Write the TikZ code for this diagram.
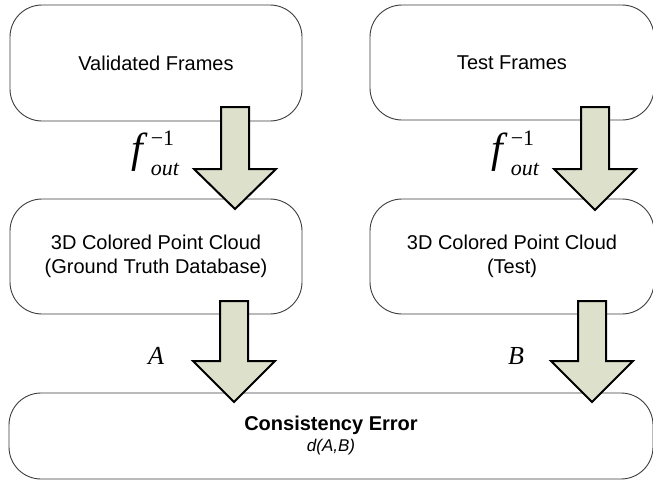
\documentclass[tikz,border=0pt]{standalone}
\usepackage{fontspec}
\setmainfont{Liberation Sans}
\newfontfamily\tnr{Liberation Serif}
\definecolor{arrowfill}{RGB}{221,225,203}
\definecolor{boxline}{RGB}{60,60,60}
\newcommand\finv{{\tnr\fontsize{42}{42}\selectfont\itshape f\kern8pt\rlap{\raisebox{17pt}{\fontsize{22}{22}\selectfont\upshape −1}}\raisebox{-13pt}{\fontsize{22}{22}\selectfont out}}}
\newcommand\blockarr[4]{%
  \draw[blockarrow] (#1-14,#2) -- (#1+14,#2) -- (#1+14,#3) -- (#1+41,#3) -- (#1,#4) -- (#1-41,#3) -- (#1-14,#3) -- cycle;}
\begin{document}
\begin{tikzpicture}[x=1pt,y=-1pt,
  box/.style={draw=boxline, line width=0.9pt, rounded corners=32pt, align=center,
    font=\fontsize{20}{24}\selectfont, inner sep=0pt},
  blockarrow/.style={draw=black, line width=2pt, fill=arrowfill, line join=miter},
  lbl/.style={inner sep=0pt}]
\useasboundingbox (0,0) rectangle (653,480);
\node[box, minimum width=292pt, minimum height=116pt] (vf) at (156,63) {Validated Frames};
\node[box, minimum width=284pt, minimum height=115pt] (tf) at (512,62.5) {Test Frames};
\node[box, minimum width=292pt, minimum height=115pt] (gt) at (156,256.5) {3D Colored Point Cloud\\(Ground Truth Database)};
\node[box, minimum width=284pt, minimum height=115pt] (tc) at (512,256.5) {3D Colored Point Cloud\\(Test)};
\node[box, minimum width=644pt, minimum height=86pt] (ce) at (331,436) {\textbf{Consistency Error}\\[-3pt]{\fontsize{17}{17}\selectfont\itshape d(A,B)}};
\blockarr{235}{107}{169}{209}
\blockarr{595}{107}{169}{210}
\blockarr{234}{301}{361}{402}
\blockarr{592}{301}{361}{402}
\node[lbl] (f1) at (155,153) {\finv};
\node[lbl] (f2) at (515,153) {\finv};
\node[lbl, font=\tnr\itshape\fontsize{26}{26}\selectfont] (la) at (156,356) {A};
\node[lbl, font=\tnr\itshape\fontsize{26}{26}\selectfont] (lb) at (516,356) {B};
\end{tikzpicture}
\end{document}
